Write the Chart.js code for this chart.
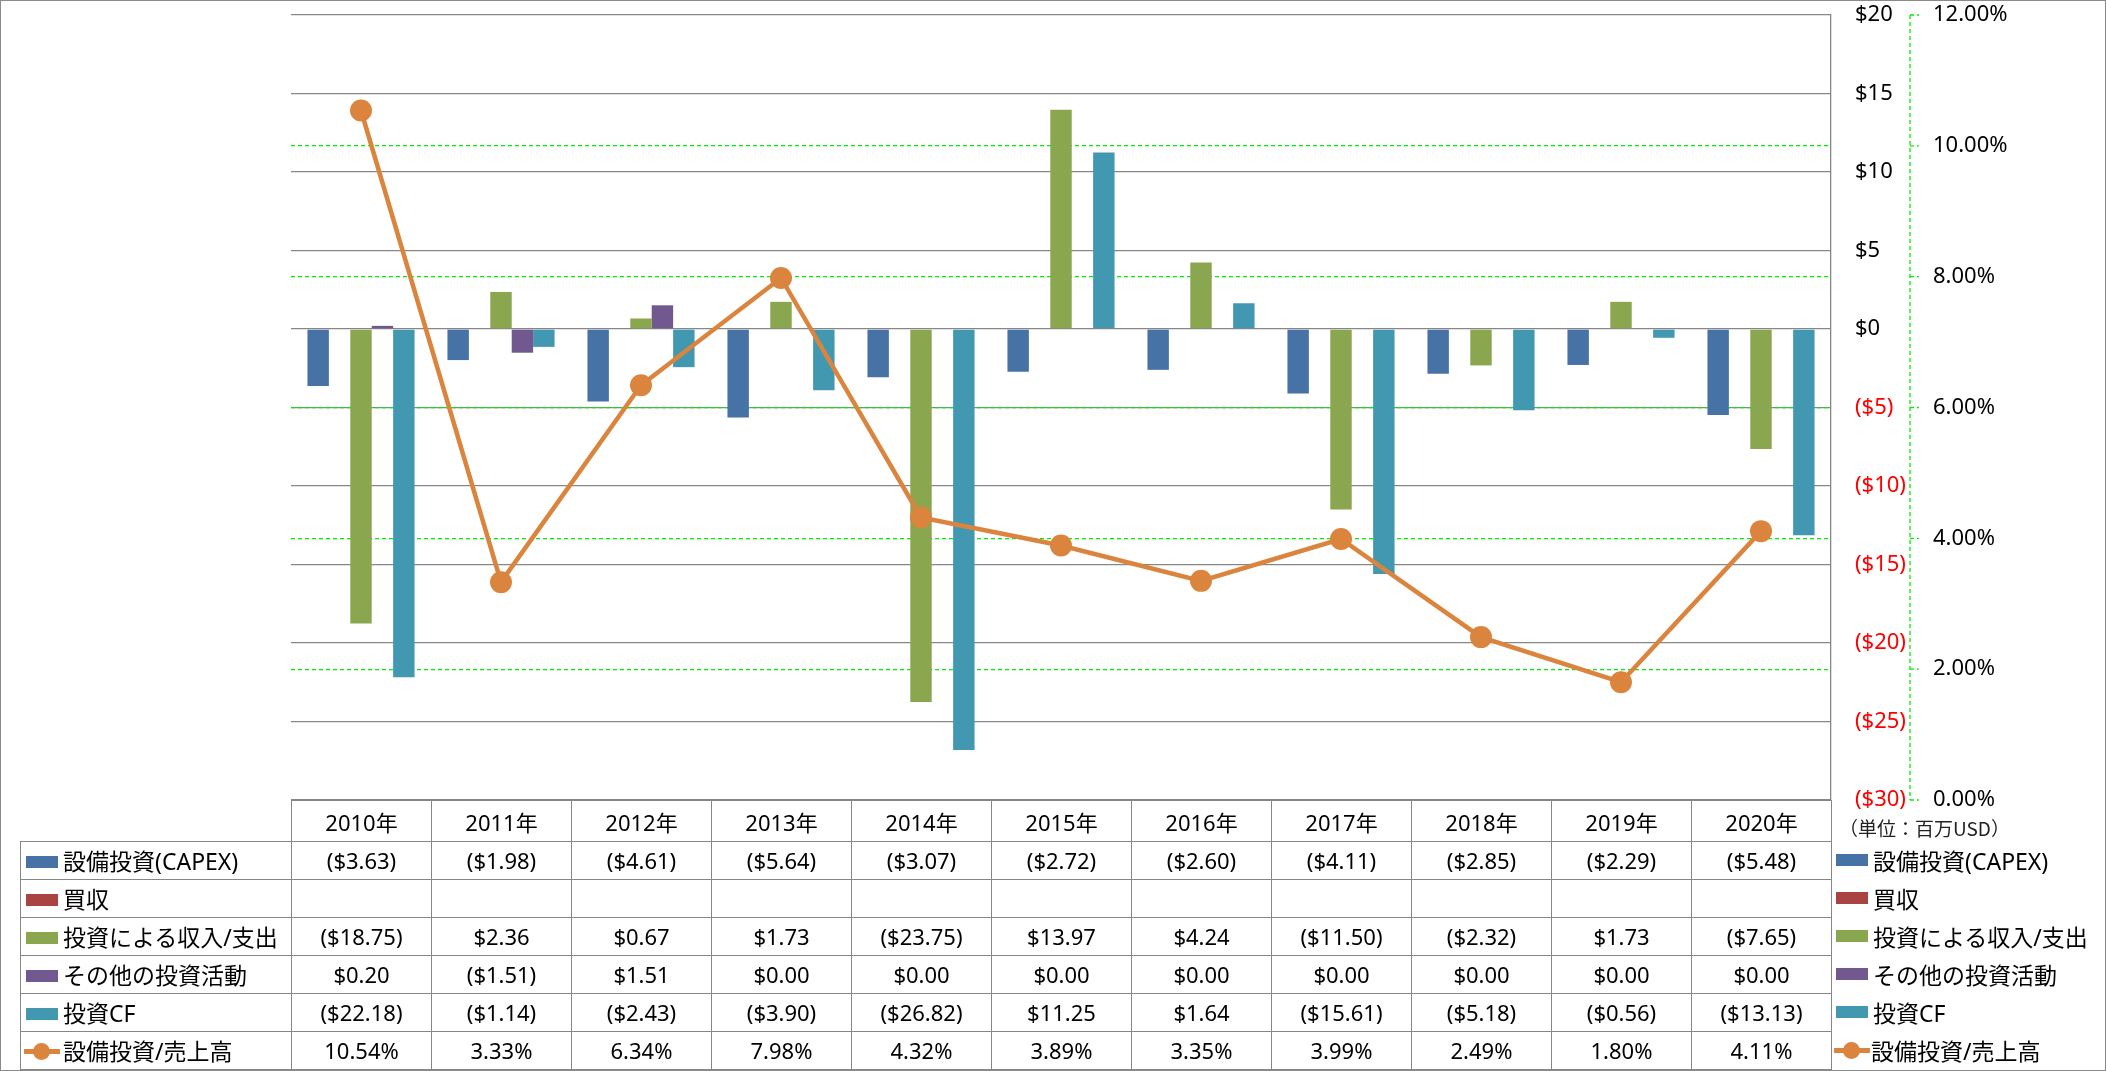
<html lang="ja">
<head>
<meta charset="UTF-8">
<title>設備投資と投資CF</title>
<script src="https://cdn.jsdelivr.net/npm/chart.js"></script>
<style>
  body {
    margin: 0;
    padding: 0;
    background: #fff;
    overflow: hidden;
    font-family: 'Noto Sans', 'Noto Sans CJK JP', sans-serif;
  }
  #wrap {
    position: absolute;
    left: 0;
    top: 0;
    width: 2106px;
    height: 1071px;
  }
  #frame {
    position: absolute;
    left: 0;
    top: 0;
    width: 2106px;
    height: 1071px;
    box-sizing: border-box;
    border: 1px solid #8a8a8a;
    pointer-events: none;
  }
  table {
    position: absolute;
    border-collapse: collapse;
    table-layout: fixed;
  }
  td, th {
    border: 1.3px solid #878787;
    padding: 0;
    text-align: center;
    font-size: 22px;
    font-weight: normal;
    color: #000;
    white-space: nowrap;
  }
  th.corner {
    border-top: hidden;
    border-left: hidden;
  }
  td.name {
    text-align: left;
    font-size: 23px;
  }
  .sw {
    display: inline-block;
    width: 32px;
    height: 12px;
    margin: 0 5px 0 5px;
    vertical-align: middle;
    position: relative;
    top: -2px;
  }
  .ls {
    display: inline-block;
    position: relative;
    width: 36px;
    height: 17px;
    margin: 0 3px 0 3px;
    vertical-align: middle;
    top: -2px;
  }
  .ls:before {
    content: '';
    position: absolute;
    left: 0;
    right: 0;
    top: 6px;
    height: 5px;
    background: #db843d;
  }
  .ls i {
    position: absolute;
    left: 9px;
    top: 0;
    width: 17px;
    height: 17px;
    border-radius: 50%;
    background: #db843d;
  }
  #legend {
    position: absolute;
  }
  #legend div {
    height: 38px;
    display: flex;
    align-items: center;
    font-size: 23px;
    white-space: nowrap;
  }
  #legend .sw {
    margin: 0 5px 0 0;
    top: 0;
  }
  #legend .ls {
    margin: 0 1px 0 -2px;
    top: 0;
  }
  #unit {
    position: absolute;
    font-size: 19px;
    font-family: 'Noto Sans CJK JP', sans-serif;
    color: #222;
    white-space: nowrap;
  }
</style>
</head>
<body>
<div id="wrap">
  <canvas id="chart" width="2106" height="1071"></canvas>
</div>
<table id="tbl"></table>
<div id="legend"></div>
<div id="unit">（単位：百万USD）</div>
<div id="frame"></div>

<script>
  // カテゴリ
  const years = ['2010年', '2011年', '2012年', '2013年', '2014年', '2015年', '2016年', '2017年', '2018年', '2019年', '2020年'];

  // 系列(百万USD)
  const capex = [-3.63, -1.98, -4.61, -5.64, -3.07, -2.72, -2.60, -4.11, -2.85, -2.29, -5.48];
  const acquisition = [null, null, null, null, null, null, null, null, null, null, null];
  const investIncome = [-18.75, 2.36, 0.67, 1.73, -23.75, 13.97, 4.24, -11.50, -2.32, 1.73, -7.65];
  const otherInvest = [0.20, -1.51, 1.51, 0.00, 0.00, 0.00, 0.00, 0.00, 0.00, 0.00, 0.00];
  const investCF = [-22.18, -1.14, -2.43, -3.90, -26.82, 11.25, 1.64, -15.61, -5.18, -0.56, -13.13];
  // 設備投資/売上高 (%)
  const capexRatio = [10.54, 3.33, 6.34, 7.98, 4.32, 3.89, 3.35, 3.99, 2.49, 1.80, 4.11];

  const seriesNames = ['設備投資(CAPEX)', '買収', '投資による収入/支出', 'その他の投資活動', '投資CF', '設備投資/売上高'];
  const colors = ['#4672a6', '#a94442', '#8aa64e', '#71588f', '#4298b0', '#db843d'];

  // 軸の範囲
  const usdMin = -30, usdMax = 20, usdStep = 5;
  const pctMin = 0, pctMax = 12, pctStep = 2;

  const GRID = '#878787';
  const GREEN = '#00ee00';
  const FONT = "'Noto Sans', 'Noto Sans CJK JP', sans-serif";

  function money(v) {
    if (v === null) return '';
    return v < 0 ? '($' + (-v).toFixed(2) + ')' : '$' + v.toFixed(2);
  }

  // 右側%軸の点線と目盛り
  const dashedAxisLine = {
    id: 'dashedAxisLine',
    afterDraw(chart) {
      const s = chart.scales.y2;
      const ctx = chart.ctx;
      ctx.save();
      ctx.strokeStyle = GREEN;
      ctx.lineWidth = 1.3;
      ctx.setLineDash([4, 3]);
      ctx.beginPath();
      ctx.moveTo(s.left, s.top);
      ctx.lineTo(s.left, s.bottom);
      s.ticks.forEach((t, i) => {
        const y = s.getPixelForTick(i);
        ctx.moveTo(s.left, y);
        ctx.lineTo(s.left + 9, y);
      });
      ctx.stroke();
      ctx.restore();
    }
  };

  const barData = [capex, acquisition, investIncome, otherInvest, investCF];

  const datasets = barData.map((d, i) => ({
    type: 'bar',
    label: seriesNames[i],
    data: d,
    backgroundColor: colors[i],
    borderWidth: 0,
    yAxisID: 'y',
    order: 2
  }));

  datasets.push({
    type: 'line',
    label: seriesNames[5],
    data: capexRatio,
    borderColor: colors[5],
    backgroundColor: colors[5],
    borderWidth: 4.5,
    pointRadius: 11,
    pointBorderWidth: 0,
    pointBackgroundColor: colors[5],
    tension: 0,
    yAxisID: 'y2',
    order: 1
  });

  const chart = new Chart(document.getElementById('chart'), {
    type: 'bar',
    data: { labels: years, datasets: datasets },
    plugins: [dashedAxisLine],
    options: {
      responsive: false,
      animation: false,
      devicePixelRatio: 1,
      categoryPercentage: 0.765,
      barPercentage: 1.0,
      layout: { padding: { left: 291, top: 15, right: 0, bottom: 271 } },
      plugins: {
        legend: { display: false },
        tooltip: { enabled: false }
      },
      scales: {
        x: {
          display: false,
          offset: true
        },
        y: {
          position: 'right',
          weight: 0,
          min: usdMin,
          max: usdMax,
          afterFit: s => { s.width = 79; },
          ticks: {
            stepSize: usdStep,
            padding: 0,
            crossAlign: 'near',
            font: { family: FONT, size: 22 },
            color: c => (c.tick.value < 0 ? '#ff0000' : '#000000'),
            callback: v => (v < 0 ? '($' + (-v) + ')' : '$' + v)
          },
          grid: { color: GRID, lineWidth: 1.3, drawTicks: true, tickLength: 24, tickColor: 'rgba(0,0,0,0)' },
          border: { display: true, color: GRID, width: 1.3 }
        },
        y2: {
          position: 'right',
          weight: 1,
          min: pctMin,
          max: pctMax,
          afterFit: s => { s.width = 196; },
          ticks: {
            stepSize: pctStep,
            padding: 0,
            crossAlign: 'near',
            font: { family: FONT, size: 22 },
            color: '#000000',
            callback: v => v.toFixed(2) + '%'
          },
          grid: {
            color: c => (c.tick.value === pctMin || c.tick.value === pctMax ? 'rgba(0,0,0,0)' : GREEN),
            lineWidth: 1.3,
            tickLength: 23,
            tickColor: 'rgba(0,0,0,0)'
          },
          border: { display: false, dash: [4, 3] }
        }
      }
    }
  });

  // データテーブル
  function swatch(i) {
    return i === 5 ? '<span class="ls"><i></i></span>' : '<span class="sw" style="background:' + colors[i] + '"></span>';
  }

  const area = chart.chartArea;
  const tableLeft = 20;
  const colW = (area.right - area.left) / years.length;
  const tbl = document.getElementById('tbl');
  tbl.style.left = tableLeft + 'px';
  tbl.style.top = (area.bottom - 0.5) + 'px';
  tbl.style.width = (area.right - tableLeft) + 'px';

  let html = '<colgroup><col style="width:' + (area.left - tableLeft) + 'px">';
  years.forEach(() => { html += '<col style="width:' + colW + 'px">'; });
  html += '</colgroup><tr style="height:41px"><th class="corner"></th>';
  years.forEach(y => { html += '<th>' + y + '</th>'; });
  html += '</tr>';
  const rows = [capex, acquisition, investIncome, otherInvest, investCF, capexRatio];
  rows.forEach((r, i) => {
    html += '<tr style="height:38px"><td class="name">' + swatch(i) + seriesNames[i] + '</td>';
    r.forEach(v => {
      html += '<td>' + (i === 5 ? v.toFixed(2) + '%' : money(v)) + '</td>';
    });
    html += '</tr>';
  });
  tbl.innerHTML = html;

  // 右側の凡例
  const legend = document.getElementById('legend');
  legend.style.left = (area.right + 5) + 'px';
  legend.style.top = (area.bottom + 41) + 'px';
  legend.innerHTML = seriesNames.map((n, i) => '<div>' + swatch(i) + n + '</div>').join('');

  const unit = document.getElementById('unit');
  unit.style.left = (area.right + 8) + 'px';
  unit.style.top = (area.bottom + 14) + 'px';
</script>
</body>
</html>
